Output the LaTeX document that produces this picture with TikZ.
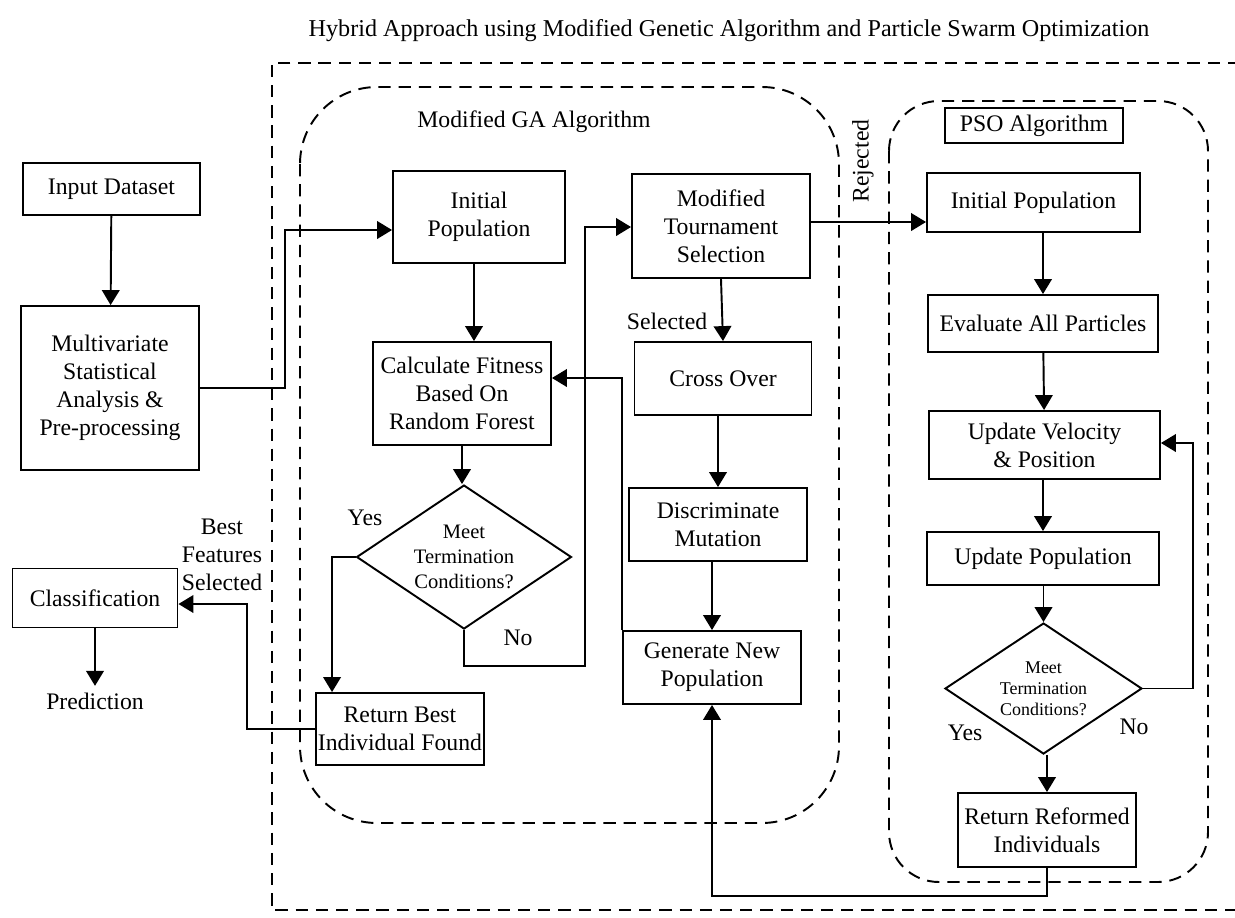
\documentclass[tikz,border=0pt]{standalone}
\usepackage{fontspec}
\setmainfont{Liberation Serif}
\usetikzlibrary{arrows.meta,calc,shapes.geometric}
\tikzset{>={Triangle[length=8.5pt,width=10pt]}}
\tikzset{
  box/.style={draw,align=center,inner sep=1pt},
  decide/.style={draw,diamond,align=center,inner sep=-12pt},
  frame/.style={dashed,dash pattern=on 7pt off 4.5pt},
}

\begin{document}
\begin{tikzpicture}[x=0.02cm,y=-0.02cm,line width=1.1pt,
                    font=\fontsize{13.5}{15.9}\selectfont]
  \useasboundingbox (0,0) rectangle (1235,917);
  % frames
  \node[font=\fontsize{13.75}{16}\selectfont] (title) at (729,31)
       {Hybrid Approach using Modified Genetic Algorithm and Particle Swarm Optimization};
  \draw[frame] (1240,63) -- (272,63) -- (272,910) -- (1240,910);
  \draw[frame,rounded corners=1.54cm] (300,87) rectangle (839,823);
  \draw[frame,rounded corners=1cm] (889,101) rectangle (1208,882);
  \node (galabel) at (534,122) {Modified GA Algorithm};
  % input side
  \node[box,minimum width=3.54cm,minimum height=1.04cm] (input) at (111.5,189) {Input Dataset};
  \node[box,minimum width=3.56cm,minimum height=3.28cm] (prep) at (110,388)
       {Multivariate\\Statistical\\Analysis \&\\Pre-processing};
  \node[box,minimum width=3.3cm,minimum height=1.18cm] (classif) at (95,598) {Classification};
  \node (predict) at (95,701) {Prediction};
  \node[align=center] (bestfeat) at (222,555) {Best\\Features\\Selected};
  % GA
  \node[box,minimum width=3.44cm,minimum height=1.84cm] (gainit) at (479,217) {Initial\\Population};
  \node[box,minimum width=3.56cm,minimum height=2.06cm] (calc) at (462,393.5)
       {Calculate Fitness\\Based On\\Random Forest};
  \node[decide,minimum width=4.3cm,minimum height=2.88cm,
        font=\fontsize{11.7}{14.2}\selectfont] (dga) at (464,557)
       {Meet\\Termination\\Conditions?};
  \node[box,minimum width=3.36cm,minimum height=1.44cm] (retbest) at (400,729)
       {Return Best\\Individual Found};
  \node[box,minimum width=3.56cm,minimum height=2.08cm] (mts) at (721,226)
       {Modified\\Tournament\\Selection};
  \node[box,minimum width=3.54cm,minimum height=1.46cm] (cross) at (723,378.5) {Cross Over};
  \node[box,minimum width=3.56cm,minimum height=1.46cm] (mutate) at (718,524.5)
       {Discriminate\\Mutation};
  \node[box,minimum width=3.56cm,minimum height=1.46cm] (newpop) at (712,667.5)
       {Generate New\\Population};
  % PSO
  \node[box,minimum width=3.56cm,minimum height=0.7cm] (psolabel) at (1034,125.5) {PSO Algorithm};
  \node[box,minimum width=4.26cm,minimum height=1.18cm] (psoinit) at (1033.5,202.5) {Initial Population};
  \node[box,minimum width=4.6cm,minimum height=1.14cm] (evalp) at (1043,323.5) {Evaluate All Particles};
  \node[box,minimum width=4.62cm,minimum height=1.36cm] (updv) at (1044.5,445)
       {Update Velocity\\\& Position};
  \node[box,minimum width=4.64cm,minimum height=1.06cm] (updp) at (1043,558.5) {Update Population};
  \node[decide,minimum width=3.94cm,minimum height=2.62cm,
        font=\fontsize{10.2}{12}\selectfont] (dpso) at (1043.5,688.5)
       {Meet\\Termination\\Conditions?};
  \node[box,minimum width=3.56cm,minimum height=1.48cm] (retref) at (1047,830)
       {Return Reformed\\Individuals};
  % connectors on the left
  \draw[->] (input) -- (prep);
  \draw[->] (prep.east) -- (285,388) |- ($(gainit.west)+(0,13)$);
  \draw[->] (classif) -- (predict);
  \draw[->] (retbest.west) -| ($(classif.east)+(69,6)$) -- ($(classif.east)+(0,6)$);
  % GA loop
  \draw[->] ($(gainit.south)+(-5,0)$) -- ($(gainit.south |- calc.north)+(-5,0)$);
  \draw[->] (calc.south) -- (calc.south |- dga.north);
  \draw[->] (dga.west) -| ($(retbest.north west)+(17,0)$);
  \node (yesga) at (365,518) {Yes};
  \draw[->] (dga.south) -- ++(0,36) -| ($(mts.west)+(-46,1)$) -- ($(mts.west)+(0,1)$);
  \node (noga) at (518,638) {No};
  \draw[->] (mts.south) -- (cross.north);
  \node (selected) at (667,321) {Selected};
  \draw[->] (mutate.north |- cross.south) -- (mutate.north);
  \draw[->] (newpop.north |- mutate.south) -- (newpop.north);
  \draw[->] (newpop.north west) |- ($(calc.east)+(0,-15.5)$);
  % to PSO
  \coordinate (rej) at ($(mts.east)+(0,-4)$);
  \draw[->] (rej) -- (rej -| psoinit.west);
  \node[rotate=90] (rejected) at (863,161) {Rejected};
  % PSO loop
  \draw[->] (evalp.north |- psoinit.south) -- (evalp.north);
  \draw[->] (evalp) -- (updv);
  \draw[->] (updv.south -| updp.north) -- (updp.north);
  \draw[->] (updp.south -| dpso.north) -- (dpso.north);
  \draw[->] (dpso.east) -| ($(updv.east)+(32,-2)$) -- ($(updv.east)+(0,-2)$);
  \node (yespso) at (965,733) {Yes};
  \node (nopso) at (1134,727) {No};
  \draw[->] (dpso.south -| retref.north) -- (retref.north);
  \draw[->] (retref.south) -- ++(0,28) -| (newpop.south);
\end{tikzpicture}
\end{document}
